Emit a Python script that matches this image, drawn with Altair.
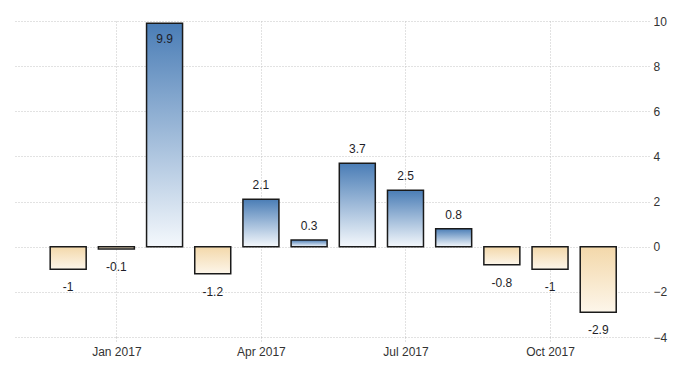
import altair as alt
import pandas as pd

months = ["Dec 2016", "Jan 2017", "Feb 2017", "Mar 2017", "Apr 2017", "May 2017",
          "Jun 2017", "Jul 2017", "Aug 2017", "Sep 2017", "Oct 2017", "Nov 2017"]
values = [-1, -0.1, 9.9, -1.2, 2.1, 0.3, 3.7, 2.5, 0.8, -0.8, -1, -2.9]
labels = ["-1", "-0.1", "9.9", "-1.2", "2.1", "0.3", "3.7", "2.5", "0.8", "-0.8", "-1", "-2.9"]
x_label_idx = [1, 4, 7, 10]
y_ticks = [-4, -2, 0, 2, 4, 6, 8, 10]

df = pd.DataFrame({"idx": list(range(len(months))), "month": months,
                   "value": values, "label": labels})

FONT = "'Liberation Sans Narrow', 'Arial Narrow', 'Liberation Sans', Arial, sans-serif"
label_expr = "[" + ",".join("'%s'" % m for m in months) + "][datum.value]"

x_enc = alt.X("idx:Q",
              scale=alt.Scale(domain=[-1.0, 11.95], nice=False, zero=False),
              axis=alt.Axis(values=x_label_idx, labelExpr=label_expr, title=None,
                            domain=False, grid=True, gridColor="#c4c4c4",
                            gridDash=[1, 2], tickColor="#c4c4c4", tickDash=[1, 2],
                            tickSize=4, labelPadding=5, labelFont=FONT,
                            labelFontSize=12, labelColor="#333333"))
y_scale = alt.Scale(domain=[-4, 10], nice=False)
y_enc = alt.Y("value:Q", scale=y_scale,
              axis=alt.Axis(orient="right", values=y_ticks, title=None, domain=False,
                            ticks=False, grid=True, gridColor="#c4c4c4",
                            gridDash=[1, 2], labelPadding=4, labelFont=FONT,
                            labelFontSize=12, labelColor="#333333"))

base = alt.Chart(df)

pos_grad = alt.Gradient(gradient="linear", x1=0, x2=0, y1=0, y2=1,
                        stops=[alt.GradientStop(color="#4a7db6", offset=0),
                               alt.GradientStop(color="#f4f8fc", offset=1)])
neg_grad = alt.Gradient(gradient="linear", x1=0, x2=0, y1=0, y2=1,
                        stops=[alt.GradientStop(color="#f3d8aa", offset=0),
                               alt.GradientStop(color="#fdf6ea", offset=1)])

pos_bars = base.transform_filter("datum.value >= 0").mark_bar(
    size=36, fill=pos_grad, stroke="#1a1a1a", strokeWidth=1.5
).encode(x=x_enc, y=y_enc, y2=alt.datum(0))

neg_bars = base.transform_filter("datum.value < 0").mark_bar(
    size=36, fill=neg_grad, stroke="#1a1a1a", strokeWidth=1.5
).encode(x=x_enc, y=y_enc, y2=alt.datum(0))

txt_kw = dict(font=FONT, fontSize=12, color="#1e1e28", baseline="middle", align="center")

pos_txt = base.transform_filter("datum.value >= 0 && datum.value < 9").mark_text(
    dy=-14, **txt_kw).encode(x="idx:Q", y=alt.Y("value:Q", scale=y_scale), text="label:N")
top_txt = base.transform_filter("datum.value >= 9").mark_text(
    dy=16, **txt_kw).encode(x="idx:Q", y=alt.Y("value:Q", scale=y_scale), text="label:N")
neg_txt = base.transform_filter("datum.value < 0").mark_text(
    dy=18, **txt_kw).encode(x="idx:Q", y=alt.Y("value:Q", scale=y_scale), text="label:N")

chart = alt.layer(pos_bars, neg_bars, pos_txt, top_txt, neg_txt).properties(
    width=634, height=316,
    padding={"left": 7, "top": 7, "right": 5, "bottom": 5},
    background="white",
).configure_view(stroke=None)

chart.save("out.html", embed_options={"renderer": "svg", "actions": False})
